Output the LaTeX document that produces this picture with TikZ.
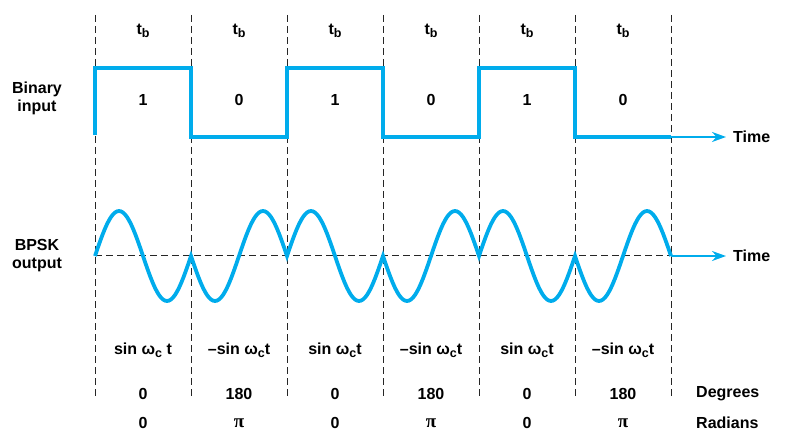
\documentclass[tikz,border=0pt]{standalone}
\usepackage{fontspec}
\setmainfont{Liberation Sans}
\newfontfamily\pifont{Liberation Serif}
\usetikzlibrary{arrows.meta}
\definecolor{wave}{RGB}{0,172,236}
\newcommand{\sbs}[1]{\raisebox{-0.3ex}{\fontsize{12.5}{12.5}\selectfont #1}}
\newcommand{\bigpi}{{\pifont\fontsize{19}{19}\selectfont π}}
\tikzset{
  grid/.style={black!85, line width=1pt, dash pattern=on 7pt off 4pt},
  sig/.style={wave, line width=3.8pt, line join=miter},
  lbl/.style={font=\fontsize{16}{18}\selectfont\bfseries, inner sep=0pt, align=center},
  arr/.style={wave, line width=2.2pt, -{Stealth[length=14pt,width=10pt]}}
}
\begin{document}
\begin{tikzpicture}[x=1pt,y=-1pt]
\useasboundingbox (0,0) rectangle (799,443);
% vertical dashed lines
\foreach \i in {0,...,6} {
  \coordinate (vt\i) at ({95+96*\i},15);
  \coordinate (vb\i) at ({95+96*\i},398);
  \draw[grid] (vt\i) -- (vb\i);
}
% horizontal axis of BPSK
\coordinate (ax0) at (95,256);
\coordinate (ax1) at (671,256);
\coordinate (ax2) at (726,256);
\draw[grid] (ax0) -- (ax1);
% binary input
\coordinate (sq0) at (95,135);
\coordinate (sq1) at (671,137);
\coordinate (sq2) at (726,137);
\draw[sig] (sq0) -- (95,68) -- (191,68) -- (191,137) -- (287,137) -- (287,68) -- (383,68)
  -- (383,137) -- (479,137) -- (479,68) -- (575,68) -- (575,137) -- (sq1);
\draw[arr] (sq1) -- (sq2);
% BPSK output
\draw[sig]
  plot[domain=0:96,samples=49] ({95+\x},{256-45*sin(\x*3.75)})
  -- plot[domain=0:96,samples=49] ({191+\x},{256+45*sin(\x*3.75)})
  -- plot[domain=0:96,samples=49] ({287+\x},{256-45*sin(\x*3.75)})
  -- plot[domain=0:96,samples=49] ({383+\x},{256+45*sin(\x*3.75)})
  -- plot[domain=0:96,samples=49] ({479+\x},{256-45*sin(\x*3.75)})
  -- plot[domain=0:96,samples=49] ({575+\x},{256+45*sin(\x*3.75)});
\draw[arr] (ax1) -- (ax2);
% left labels
\node[lbl] (bin) at (37,98) {Binary\\input};
\node[lbl] (bpsk) at (37,256) {BPSK\\output};
\node[lbl, anchor=west] (time1) at (733,137) {Time};
\node[lbl, anchor=west] (time2) at (733,256) {Time};
% column labels
\foreach \i/\b/\f/\d/\r in {0/1/sin ω\sbs{c} t/0/0, 1/0/\textendash sin ω\sbs{c}t/180/\bigpi, 2/1/sin ω\sbs{c}t/0/0, 3/0/\textendash sin ω\sbs{c}t/180/\bigpi, 4/1/sin ω\sbs{c}t/0/0, 5/0/\textendash sin ω\sbs{c}t/180/\bigpi} {
  \node[lbl] (tb\i) at ({143+96*\i},31) {t\sbs{b}};
  \node[lbl] (bit\i) at ({143+96*\i},100) {\b};
  \node[lbl] (fn\i) at ({143+96*\i},350) {\f};
  \node[lbl] (deg\i) at ({143+96*\i},394) {\d};
  \node[lbl] (rad\i) at ({143+96*\i},423) {\r};
}
\node[lbl, anchor=west] (degl) at (696,394) {Degrees};
\node[lbl, anchor=west] (radl) at (696,423) {Radians};
\end{tikzpicture}
\end{document}
